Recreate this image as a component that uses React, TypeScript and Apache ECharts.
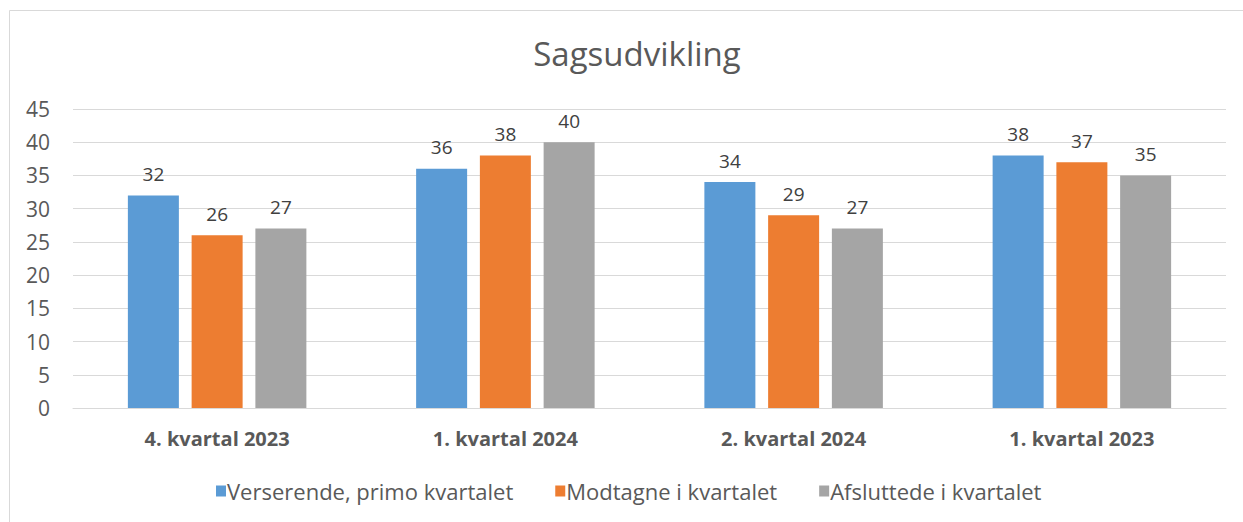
import React, { useEffect, useRef } from "react";
import * as echarts from "echarts";

const categories = ["4. kvartal 2023", "1. kvartal 2024", "2. kvartal 2024", "1. kvartal 2023"];
const verserende = [32, 36, 34, 38];
const modtagne = [26, 38, 29, 37];
const afsluttede = [27, 40, 27, 35];
const seriesNames = ["Verserende, primo kvartalet", "Modtagne i kvartalet", "Afsluttede i kvartalet"];
const colors = ["#5b9bd5", "#ed7d31", "#a5a5a5"];

const FONT = "'Open Sans', sans-serif";

export default function App() {
  const ref = useRef<HTMLDivElement>(null);
  useEffect(() => {
    document.body.style.margin = "0";
    const chart = echarts.init(ref.current!, null, { renderer: "svg" });
    const data = [verserende, modtagne, afsluttede];
    chart.setOption({
      animation: false,
      backgroundColor: "#ffffff",
      textStyle: { fontFamily: FONT },
      title: {
        text: "Sagsudvikling",
        left: 632,
        textAlign: "center",
        top: 32,
        textStyle: { fontSize: 33, fontWeight: "normal", color: "#595959", fontFamily: FONT },
      },
      graphic: [
        {
          type: "rect",
          shape: { x: 9.5, y: 10.5, width: 1300, height: 600 },
          style: { fill: "none", stroke: "#d9d9d9", lineWidth: 1 },
          silent: true,
        },
      ],
      legend: {
        bottom: 15,
        left: 211,
        itemWidth: 10,
        itemHeight: 11,
        itemGap: 42,
        icon: "rect",
        textStyle: { fontSize: 22, color: "#595959", fontFamily: FONT, padding: [0, 0, 0, -4] },
        data: seriesNames,
      },
      grid: { left: 73, right: 17, top: 109, bottom: 114 },
      xAxis: {
        type: "category",
        data: categories,
        axisLine: { lineStyle: { color: "#d9d9d9", width: 1 } },
        axisTick: { show: false },
        axisLabel: { fontSize: 20, fontWeight: "bold", color: "#595959", margin: 20, fontFamily: FONT },
      },
      yAxis: {
        type: "value",
        min: 0,
        max: 45,
        interval: 5,
        axisLine: { show: false },
        axisTick: { show: false },
        splitLine: { lineStyle: { color: "#d9d9d9", width: 1 } },
        axisLabel: { fontSize: 21, color: "#595959", margin: 23, fontFamily: FONT },
      },
      series: seriesNames.map((name, i) => ({
        name,
        type: "bar",
        data: data[i],
        barWidth: 51,
        barGap: "25%",
        itemStyle: { color: colors[i] },
        label: {
          show: true,
          position: "top",
          distance: 12,
          fontSize: 19,
          color: "#404040",
          fontFamily: FONT,
        },
      })),
    });
    return () => chart.dispose();
  }, []);
  return <div ref={ref} style={{ width: 1243, height: 522 }} />;
}
